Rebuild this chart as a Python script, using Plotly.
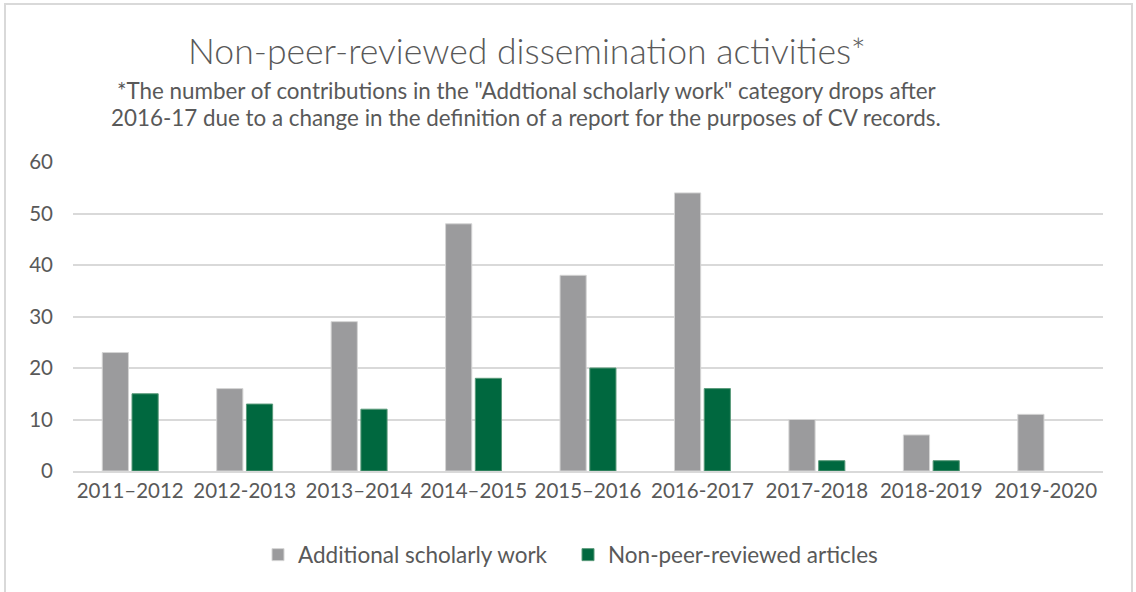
import plotly.graph_objects as go

categories = ["2011–2012", "2012-2013", "2013–2014", "2014–2015", "2015–2016",
              "2016-2017", "2017-2018", "2018-2019", "2019-2020"]
additional = [23, 16, 29, 48, 38, 54, 10, 7, 11]
non_peer = [15, 13, 12, 18, 20, 16, 2, 2, None]
tick_vals = [0, 10, 20, 30, 40, 50, 60]

W, H = 1136, 592
L, R, T, B = 73, 33, 162, 121
pw, ph = W - L - R, H - T - B

def px(x):
    return (x - L) / pw

def py(y):
    return (H - B - y) / ph

FONT = "Lato"
TXT = "#595959"

fig = go.Figure()
fig.add_trace(go.Bar(x=categories, y=additional, name="Additional scholarly work",
                     marker=dict(color="#9b9b9d", line=dict(color="#d4d4d4", width=1))))
fig.add_trace(go.Bar(x=categories, y=non_peer, name="Non-peer-reviewed articles",
                     marker=dict(color="#00683f", line=dict(color="#5a9a7a", width=1))))

fig.update_layout(
    width=W, height=H,
    margin=dict(l=L, r=R, t=T, b=B),
    paper_bgcolor="white", plot_bgcolor="white",
    barmode="group", bargap=0.48, bargroupgap=0.12,
    font=dict(family=FONT, color=TXT, size=20.5),
    showlegend=True,
    legend=dict(orientation="h", x=px(258), xanchor="left", y=py(555), yanchor="middle",
                font=dict(size=22.5, color=TXT), entrywidth=265, entrywidthmode="pixels"),
    xaxis=dict(showgrid=False, showline=True, linecolor="#d9d9d9", linewidth=2,
               ticks="", tickfont=dict(size=20.5, color=TXT)),
    yaxis=dict(range=[0, 60], tickvals=tick_vals, showgrid=True, gridcolor="#d9d9d9",
               gridwidth=2, zeroline=False, showline=False, ticks="",
               tickfont=dict(size=20.5, color=TXT), ticklabelstandoff=19),
)

fig.add_annotation(text="Non-peer-reviewed dissemination activities*", x=px(527), y=py(50),
                   xref="paper", yref="paper", showarrow=False, xanchor="center", yanchor="middle",
                   font=dict(family=FONT, size=35.6, color=TXT, weight=300))
fig.add_annotation(text="*The number of contributions in the \"Addtional scholarly work\" category drops after",
                   x=px(526), y=py(90), xref="paper", yref="paper", showarrow=False,
                   xanchor="center", yanchor="middle", font=dict(family=FONT, size=22.4, color=TXT))
fig.add_annotation(text="2016-17 due to a change in the definition of a report for the purposes of CV records.",
                   x=px(526), y=py(118), xref="paper", yref="paper", showarrow=False,
                   xanchor="center", yanchor="middle", font=dict(family=FONT, size=22.4, color=TXT))

fig.add_shape(type="rect", xref="paper", yref="paper",
              x0=px(5), x1=px(1132), y0=py(600), y1=py(4),
              line=dict(color="#d9d9d9", width=2), fillcolor="rgba(0,0,0,0)", layer="below")

fig.write_html("out.html", config={"displayModeBar": False},
               post_script="document.body.style.margin='0';")
